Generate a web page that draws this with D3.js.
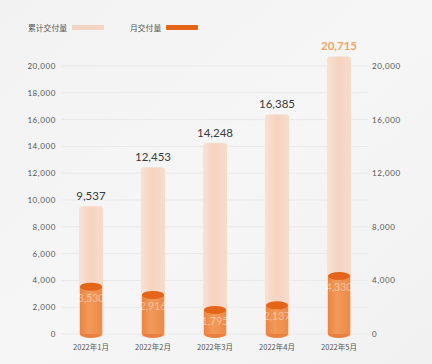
<!DOCTYPE html>
<html>
<head>
<meta charset="utf-8">
<script src="https://cdn.jsdelivr.net/npm/d3@7"></script>
<style>
  body { margin: 0; background: #f4f4f4; }
  svg { display: block; }
  .tick text { font-family: Lato, "DejaVu Sans", sans-serif; }
</style>
</head>
<body>
<div class="chart"></div>
<script>
var w = 432;
var h = 364;

var months = ["2022年1月", "2022年2月", "2022年3月", "2022年4月", "2022年5月"];
var cumulative = [9537, 12453, 14248, 16385, 20715];
var monthly = [3530, 2916, 1795, 2137, 4330];
var leftTicks = [0, 2000, 4000, 6000, 8000, 10000, 12000, 14000, 16000, 18000, 20000];
var rightTicks = [0, 4000, 8000, 12000, 16000, 20000];
var legendNames = ["累计交付量", "月交付量"];

var numFont = "Lato, 'DejaVu Sans', sans-serif";
var cjkFont = "'Noto Sans CJK SC', sans-serif";
var fmt = d3.format(",");

var svg = d3.select(".chart").append("svg")
  .attr("width", w)
  .attr("height", h);

var defs = svg.append("defs");

var bg = defs.append("linearGradient").attr("id", "bg")
  .attr("x1", 0).attr("y1", 0).attr("x2", 1).attr("y2", 1);
bg.append("stop").attr("offset", 0).attr("stop-color", "#f2f2f2");
bg.append("stop").attr("offset", 0.5).attr("stop-color", "#f6f6f6");
bg.append("stop").attr("offset", 1).attr("stop-color", "#f1f1f1");

var cumGrad = defs.append("linearGradient").attr("id", "cumGrad")
  .attr("x1", 0).attr("x2", 1).attr("y1", 0).attr("y2", 0);
cumGrad.append("stop").attr("offset", 0).attr("stop-color", "#f8e3d6");
cumGrad.append("stop").attr("offset", 0.45).attr("stop-color", "#f5d3bf");
cumGrad.append("stop").attr("offset", 1).attr("stop-color", "#f7dccb");

var monGrad = defs.append("linearGradient").attr("id", "monGrad")
  .attr("x1", 0).attr("x2", 1).attr("y1", 0).attr("y2", 0);
monGrad.append("stop").attr("offset", 0).attr("stop-color", "#ec8440");
monGrad.append("stop").attr("offset", 0.4).attr("stop-color", "#f29a5a");
monGrad.append("stop").attr("offset", 1).attr("stop-color", "#ed8a48");

svg.append("rect").attr("width", w).attr("height", h).attr("fill", "url(#bg)");

var xScale = d3.scaleBand()
  .domain(months)
  .range([60, 370])
  .paddingInner(0.61)
  .paddingOuter(0.305);

var yScale = d3.scaleLinear()
  .domain([0, 20000])
  .range([334, 66]);

var bw = xScale.bandwidth();

// gridlines
svg.selectAll(".grid")
  .data(leftTicks)
  .enter()
  .append("line")
  .attr("x1", 62)
  .attr("x2", 368)
  .attr("y1", function(d) { return yScale(d); })
  .attr("y2", function(d) { return yScale(d); })
  .attr("stroke", "#e9e9e9")
  .attr("stroke-width", 1);

// axes
var yAxisL = d3.axisLeft(yScale).tickValues(leftTicks).tickFormat(fmt).tickSize(0).tickPadding(0);
var yAxisR = d3.axisRight(yScale).tickValues(rightTicks).tickFormat(fmt).tickSize(0).tickPadding(0);

var gl = svg.append("g").attr("transform", "translate(56,0)").call(yAxisL);
var gr = svg.append("g").attr("transform", "translate(372,0)").call(yAxisR);
[gl, gr].forEach(function(g) {
  g.select(".domain").remove();
  g.selectAll("text")
    .style("font-size", "8px")
    .style("letter-spacing", "0.6px")
    .attr("fill", "#555");
});

var xAxis = d3.axisBottom(xScale).tickSize(0).tickPadding(0);
var gx = svg.append("g").attr("transform", "translate(0,345)").call(xAxis);
gx.select(".domain").remove();
gx.selectAll("text")
  .style("font-family", cjkFont)
  .style("font-size", "7.5px")
  .attr("fill", "#555");

// cumulative bars
svg.selectAll(".cum")
  .data(cumulative)
  .enter()
  .append("rect")
  .attr("x", function(d, i) { return xScale(months[i]); })
  .attr("y", function(d) { return yScale(d); })
  .attr("width", bw)
  .attr("height", function(d) { return yScale(0) - yScale(d) + 3; })
  .attr("rx", 3)
  .attr("fill", "url(#cumGrad)");

svg.selectAll(".cumLabel")
  .data(cumulative)
  .enter()
  .append("text")
  .attr("x", function(d, i) { return xScale(months[i]) + bw / 2; })
  .attr("y", function(d) { return yScale(d) - 6; })
  .attr("text-anchor", "middle")
  .style("font-family", numFont)
  .style("font-size", "11.5px")
  .style("font-weight", function(d, i) { return i == 4 ? "bold" : "normal"; })
  .attr("fill", function(d, i) { return i == 4 ? "#f0a468" : "#3a3a3a"; })
  .text(fmt);

// monthly cylinders
var cyl = svg.selectAll(".mon")
  .data(monthly)
  .enter()
  .append("g");

cyl.append("ellipse")
  .attr("cx", function(d, i) { return xScale(months[i]) + bw / 2; })
  .attr("cy", yScale(0))
  .attr("rx", bw / 2 - 1)
  .attr("ry", 4)
  .attr("fill", "#e98040");

cyl.append("rect")
  .attr("x", function(d, i) { return xScale(months[i]) + 1; })
  .attr("y", function(d) { return yScale(d); })
  .attr("width", bw - 2)
  .attr("height", function(d) { return yScale(0) - yScale(d); })
  .attr("fill", "url(#monGrad)");

cyl.append("ellipse")
  .attr("cx", function(d, i) { return xScale(months[i]) + bw / 2; })
  .attr("cy", function(d) { return yScale(d); })
  .attr("rx", bw / 2 - 1)
  .attr("ry", 4)
  .attr("fill", "#e4651a");

cyl.append("text")
  .attr("x", function(d, i) { return xScale(months[i]) + bw / 2; })
  .attr("y", function(d) { return yScale(d) + 15; })
  .attr("text-anchor", "middle")
  .style("font-family", numFont)
  .style("font-size", "10.5px")
  .attr("fill", "#fff")
  .attr("fill-opacity", 0.45)
  .text(fmt);

// legend
var legend = svg.append("g");
var legendX = [28, 130];
var legendColors = ["#f3d5c4", "#e4651a"];
legendNames.forEach(function(name, i) {
  legend.append("text")
    .attr("x", legendX[i])
    .attr("y", 31)
    .style("font-family", cjkFont)
    .style("font-size", "7.8px")
    .attr("fill", "#555")
    .text(name);
  legend.append("rect")
    .attr("x", legendX[i] + (i == 0 ? 44 : 36))
    .attr("y", 25)
    .attr("width", 32)
    .attr("height", 5)
    .attr("rx", 1)
    .attr("fill", legendColors[i]);
});
</script>
</body>
</html>
